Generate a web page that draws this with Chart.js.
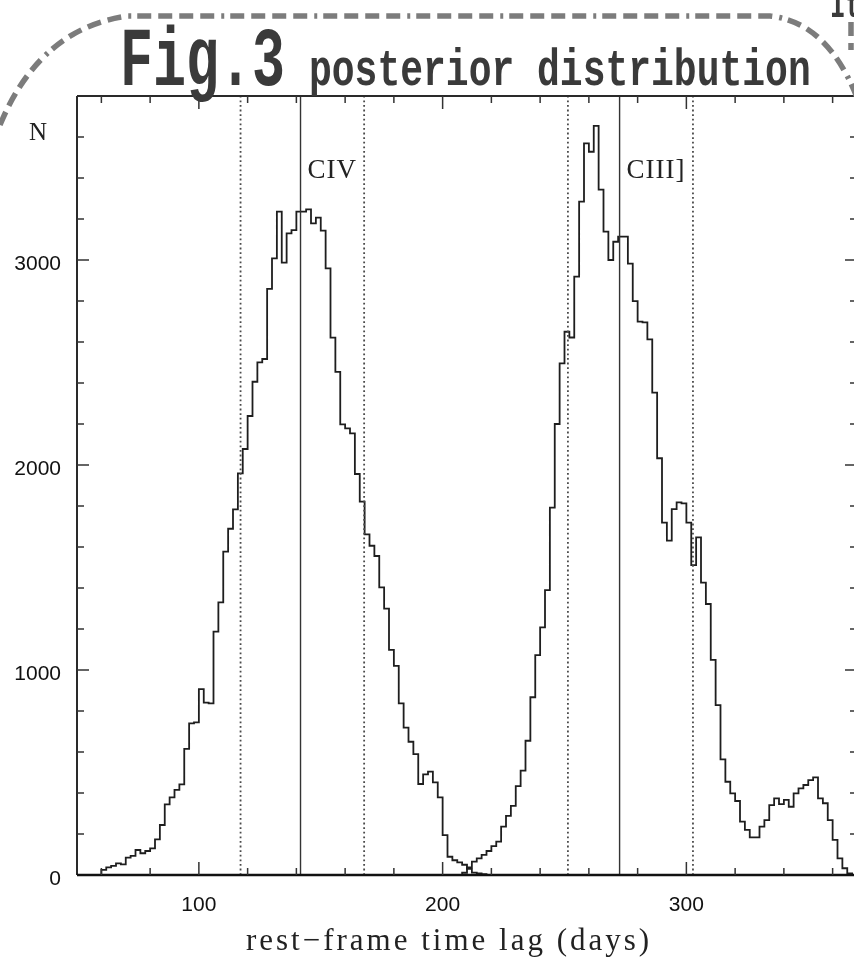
<!DOCTYPE html>
<html>
<head>
<meta charset="utf-8">
<script src="https://cdn.jsdelivr.net/npm/chart.js@4.4.1/dist/chart.umd.min.js"></script>
<style>
    html, body { margin: 0; padding: 0; background: #fff; overflow: hidden; }
    #wrap { position: relative; width: 870px; height: 961px; }
</style>
</head>
<body>
<div id="wrap"><canvas id="lag-chart" width="870" height="961"></canvas></div>
<script>
// histogram bins (days, rest frame), 2-day wide
var binWidth = 2;
var civStart = 60;
var civCounts = [
    25, 37, 45, 57, 52, 85, 93, 122, 106, 117,
    130, 174, 244, 345, 379, 415, 442, 615, 740, 745,
    907, 841, 837, 1187, 1330, 1577, 1689, 1784, 1959, 2078,
    2239, 2406, 2501, 2517, 2859, 3008, 3236, 2987, 3130, 3146,
    3236, 3236, 3247, 3179, 3207, 3143, 2959, 2621, 2454, 2198,
    2179, 2154, 1956, 1821, 1662, 1606, 1556, 1403, 1299, 1098,
    1020, 837, 719, 650, 590, 444, 491, 504, 452, 379,
    195, 89, 72, 62, 50, 30, 12, 8, 4
];
var ciiiStart = 208;
var ciiiCounts = [
    11, 37, 65, 81, 98, 117, 141, 163, 236, 288,
    337, 434, 509, 655, 867, 1073, 1208, 1390, 1792, 2200,
    2496, 2650, 2622, 2919, 3285, 3569, 3528, 3654, 3343, 3138,
    3000, 3089, 3114, 3114, 2982, 2799, 2699, 2696, 2613, 2353,
    2033, 1719, 1631, 1785, 1818, 1813, 1719, 1512, 1647, 1426,
    1322, 1049, 829, 564, 455, 398, 361, 260, 220, 184,
    184, 236, 268, 341, 374, 346, 366, 333, 398, 423,
    439, 463, 476, 374, 350, 268, 171, 81, 33, 8
];

// median lag (solid) and interval limits (dotted)
var lineNames = ['CIV', 'CIII]'];
var medianLags = [141.7, 272.6];
var intervalLags = [117.1, 167.8, 251.4, 302.7];

// axes
var xMin = 50, xMax = 370, xMinor = 20;
var yMin = 0, yMax = 3800, yMinor = 200;
var xTicks = [100, 200, 300];
var yTicks = [0, 1000, 2000, 3000];

function histPoints(start, counts) {
    var pts = [{x: start, y: 0}];
    counts.forEach(function (c, i) {
        pts.push({x: start + i * binWidth, y: c});
    });
    pts.push({x: start + counts.length * binWidth, y: 0});
    return pts;
}

function vLine(v, dotted) {
    return {
        data: [{x: v, y: yMin}, {x: v, y: yMax}],
        borderColor: dotted ? '#4a4a4a' : '#333',
        borderWidth: dotted ? 1.8 : 1.4,
        borderDash: dotted ? [1.8, 2.8] : [],
        pointRadius: 0
    };
}

var datasets = [];
medianLags.forEach(function (v) { datasets.push(vLine(v, false)); });
intervalLags.forEach(function (v) { datasets.push(vLine(v, true)); });
datasets.push({
    label: 'CIV',
    data: histPoints(civStart, civCounts),
    stepped: true,
    borderColor: '#1e1e1e',
    borderWidth: 1.8,
    pointRadius: 0
});
datasets.push({
    label: 'CIII]',
    data: histPoints(ciiiStart, ciiiCounts),
    stepped: true,
    borderColor: '#1e1e1e',
    borderWidth: 1.8,
    pointRadius: 0
});

// frame, inward ticks, labels and the page decoration
var decor = {
    id: 'decor',
    afterDraw: function (chart) {
        var ctx = chart.ctx, a = chart.chartArea;
        var xs = chart.scales.x, ys = chart.scales.y;
        ctx.save();

        // frame
        ctx.strokeStyle = '#2a2a2a';
        ctx.lineWidth = 2;
        ctx.beginPath();
        ctx.moveTo(a.left, a.top); ctx.lineTo(a.left, a.bottom);
        ctx.moveTo(a.left, a.top); ctx.lineTo(a.right, a.top);
        ctx.moveTo(a.right, a.top); ctx.lineTo(a.right, a.bottom);
        ctx.stroke();
        ctx.lineWidth = 2.6;
        ctx.strokeStyle = '#111';
        ctx.beginPath();
        ctx.moveTo(a.left, a.bottom); ctx.lineTo(a.right, a.bottom);
        ctx.stroke();

        // inward ticks, long ones at the labelled values
        ctx.lineWidth = 1.5;
        ctx.strokeStyle = '#333';
        ctx.beginPath();
        for (var v = xMin - xMin % xMinor + xMinor; v < xMax; v += xMinor) {
            var px = xs.getPixelForValue(v);
            var len = xTicks.indexOf(v) >= 0 ? 13 : 7;
            ctx.moveTo(px, a.bottom); ctx.lineTo(px, a.bottom - len);
            ctx.moveTo(px, a.top); ctx.lineTo(px, a.top + len);
        }
        for (var w = yMinor; w < yMax; w += yMinor) {
            var py = ys.getPixelForValue(w);
            var l2 = yTicks.indexOf(w) >= 0 ? 12 : 7;
            ctx.moveTo(a.left, py); ctx.lineTo(a.left + l2, py);
            ctx.moveTo(a.right, py); ctx.lineTo(a.right - l2, py);
        }
        ctx.stroke();

        // line names
        ctx.fillStyle = '#222';
        ctx.font = '27px "Liberation Serif"';
        ctx.textBaseline = 'alphabetic';
        ctx.letterSpacing = '1px';
        lineNames.forEach(function (name, i) {
            ctx.fillText(name, xs.getPixelForValue(medianLags[i]) + 7, 178);
        });
        ctx.font = '25px "Liberation Serif"';
        ctx.letterSpacing = '0px';
        ctx.fillText('N', 29, 140);

        // x axis title
        ctx.font = '31px "Liberation Serif"';
        ctx.letterSpacing = '3px';
        ctx.textAlign = 'center';
        ctx.fillText('rest\u2212frame time lag (days)', 449, 950);
        ctx.letterSpacing = '0px';
        ctx.textAlign = 'left';

        // dashed decoration round the title
        ctx.strokeStyle = '#7c7c7c';
        ctx.lineWidth = 5.5;
        ctx.setLineDash([14, 7, 14, 7, 14, 7, 14, 7, 3, 6]);
        ctx.beginPath();
        ctx.moveTo(0, 125);
        ctx.quadraticCurveTo(40, 28, 128, 16);
        ctx.lineTo(770, 16);
        ctx.quadraticCurveTo(828, 22, 858, 100);
        ctx.moveTo(851, 22);
        ctx.lineTo(851, 50);
        ctx.stroke();
        ctx.setLineDash([]);

        // title
        ctx.fillStyle = '#3a3a3a';
        ctx.save();
        ctx.translate(120, 85);
        ctx.scale(1, 1.5);
        ctx.font = 'bold 55px "Liberation Mono"';
        ctx.fillText('Fig.3', 0, 0);
        ctx.restore();
        ctx.save();
        ctx.translate(309, 85);
        ctx.scale(1, 1.35);
        ctx.font = 'bold 38px "Liberation Mono"';
        ctx.fillText('posterior distribution', 0, 0);
        ctx.restore();
        ctx.save();
        ctx.translate(830, 17);
        ctx.scale(1, 1.4);
        ctx.font = 'bold 26px "Liberation Mono"';
        ctx.fillText('Ite', 0, 0);
        ctx.restore();

        ctx.restore();
    }
};

function plainLabel(v) { return String(v); }

var ctx = document.getElementById('lag-chart').getContext('2d');
var chart = new Chart(ctx, {
    type: 'line',
    data: { datasets: datasets },
    options: {
        responsive: false,
        animation: false,
        devicePixelRatio: 1,
        events: [],
        layout: { padding: { top: 96, right: 13, left: 0, bottom: 0 } },
        scales: {
            x: {
                type: 'linear',
                min: xMin,
                max: xMax,
                grid: { display: false },
                border: { display: false },
                ticks: {
                    maxRotation: 0,
                    autoSkip: false,
                    padding: 10,
                    color: '#111',
                    font: { family: '"Liberation Sans"', size: 21 },
                    callback: plainLabel
                },
                afterBuildTicks: function (s) {
                    s.ticks = xTicks.map(function (v) { return {value: v}; });
                },
                afterFit: function (s) { s.height = 86; }
            },
            y: {
                min: yMin,
                max: yMax,
                grid: { display: false },
                border: { display: false },
                ticks: {
                    autoSkip: false,
                    padding: 8,
                    labelOffset: 4,
                    color: '#111',
                    font: { family: '"Liberation Sans"', size: 21 },
                    callback: plainLabel
                },
                afterBuildTicks: function (s) {
                    s.ticks = yTicks.map(function (v) { return {value: v}; });
                },
                afterFit: function (s) { s.width = 77; }
            }
        },
        plugins: {
            legend: { display: false },
            tooltip: { enabled: false }
        }
    },
    plugins: [decor]
});
</script>
</body>
</html>
